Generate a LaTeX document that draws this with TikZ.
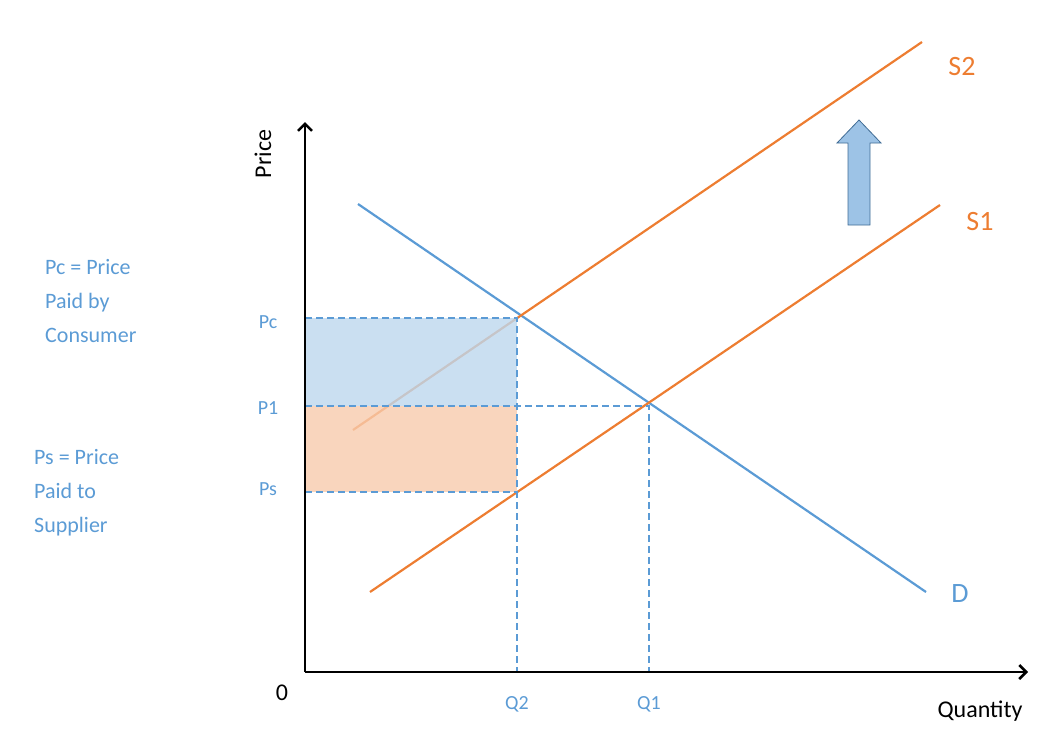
\documentclass[tikz,border=0pt]{standalone}
\usetikzlibrary{arrows.meta}
\usepackage{fontspec}
\setmainfont{Carlito}
\definecolor{cb}{HTML}{5B9BD5}
\definecolor{co}{HTML}{ED7D31}
\definecolor{lb}{HTML}{BDD7EE}
\definecolor{lo}{HTML}{F8CBAD}
\begin{document}
\begin{tikzpicture}[x=1pt,y=-1pt,
  curve/.style={line width=2.2pt},
  guide/.style={cb,line width=2pt,dash pattern=on 7pt off 4pt},
  lab/.style={inner sep=0pt,font=\fontsize{20}{24}\selectfont},
  note/.style={cb,inner sep=0pt,align=left,anchor=north west,font=\fontsize{22}{34}\selectfont}]
\useasboundingbox (0,0) rectangle (1053,745);
% curves
\coordinate (d1) at (358,204); \coordinate (d2) at (926,592);
\coordinate (s1a) at (370,592); \coordinate (s1b) at (940,205);
\coordinate (s2a) at (353,430); \coordinate (s2b) at (922,42);
\draw[curve,cb] (d1) -- (d2);
\draw[curve,co] (s1a) -- (s1b);
\draw[curve,co] (s2a) -- (s2b);
% areas
\fill[lb,fill opacity=0.8] (305,318) rectangle (517,406);
\fill[lo,fill opacity=0.8] (305,406) rectangle (517,492);
% guides
\coordinate (pc) at (305,318); \coordinate (p1) at (305,406); \coordinate (ps) at (305,492);
\coordinate (e2) at (517,318); \coordinate (e1) at (649,406); \coordinate (es) at (517,492);
\coordinate (q2) at (517,672); \coordinate (q1) at (649,672);
\draw[guide] (pc) -- (e2) -- (q2);
\draw[guide] (p1) -- (e1) -- (q1);
\draw[guide] (ps) -- (es);
% axes
\coordinate (o) at (305,672);
\draw[line width=2.5pt,-{Straight Barb[length=7pt,width=14pt]}] (o) -- (305,122);
\draw[line width=2.5pt,-{Straight Barb[length=7pt,width=14pt]}] (o) -- (1028,672);
% shift arrow
\draw[fill=cb!60,draw=cb!70!black,line width=0.8pt] (848,225) -- (848,143) -- (837,143) -- (859,120) -- (881,143) -- (870,143) -- (870,225) -- cycle;
% labels
\node[lab,co,font=\fontsize{28}{30}\selectfont] (ls2) at (962,67) {S2};
\node[lab,co,font=\fontsize{28}{30}\selectfont] (ls1) at (980,222) {S1};
\node[lab,cb,font=\fontsize{28}{30}\selectfont] (ld) at (960,594) {D};
\node[lab,cb] (lpc) at (268,322) {Pc};
\node[lab,cb] (lp1) at (268,408) {P1};
\node[lab,cb] (lps) at (268,489) {Ps};
\node[lab,cb] (lq2) at (517,704) {Q2};
\node[lab,cb] (lq1) at (649,704) {Q1};
\node[lab,font=\fontsize{24}{26}\selectfont] (l0) at (282,693) {0};
\node[lab,font=\fontsize{24}{26}\selectfont] (lq) at (980,711) {Quantity};
\node[lab,font=\fontsize{24}{26}\selectfont,rotate=90] (lpr) at (263,154) {Price};
\node[note] (n1) at (45,259) {Pc = Price\\Paid by\\Consumer};
\node[note] (n2) at (34,449) {Ps = Price\\Paid to\\Supplier};
\end{tikzpicture}
\end{document}
